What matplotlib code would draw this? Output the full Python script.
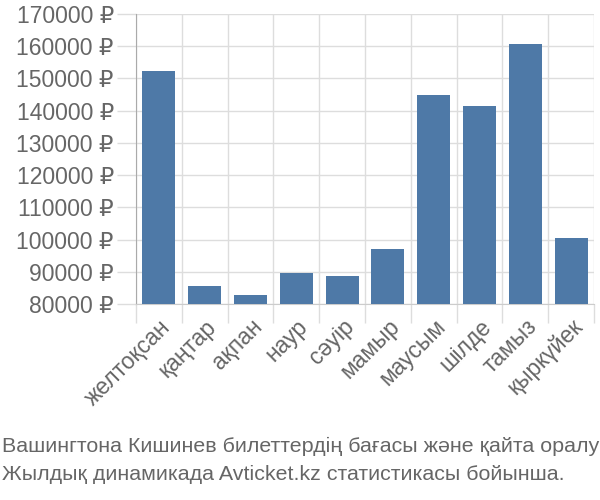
import numpy as np
import matplotlib
matplotlib.use("Agg")
import matplotlib.pyplot as plt

months = ["желтоқсан", "қаңтар", "ақпан", "наур", "сәуір",
          "мамыр", "маусым", "шілде", "тамыз", "қыркүйек"]
prices = [152200, 85700, 82700, 89600, 88600,
          97000, 145000, 141500, 160700, 100400]
y_ticks = list(range(80000, 170001, 10000))
caption = ["Вашингтона Кишинев билеттердің бағасы және қайта оралу",
           "Жылдық динамикада Avticket.kz статистикасы бойынша."]

base = ["Liberation Sans", "DejaVu Sans"]
txt = "#666666"
grid = "#dddddd"

fig = plt.figure(figsize=(6, 5), dpi=100)
ax = fig.add_axes([0.2267, 0.392, 0.7633, 0.58])

x = np.arange(len(months))
ax.bar(x, prices, width=0.72, color="#4e79a7", zorder=3)

ax.set_xlim(-0.5, len(months) - 0.5)
ax.set_ylim(80000, 170000)
ax.set_yticks(y_ticks)
ax.set_yticklabels([f"{v} ₽" for v in y_ticks], family=base,
                   fontsize=16.5, color=txt)
ax.set_xticks(x)
ax.set_xticklabels(months, rotation=45, ha="right", rotation_mode="anchor",
                   family=base, fontsize=16.5, color=txt)
ax.set_xticks(np.arange(len(months) + 1) - 0.5, minor=True)

ax.tick_params(axis="x", which="major", length=0, pad=8)
ax.tick_params(axis="x", which="minor", length=14, color=grid, width=1)
ax.tick_params(axis="y", length=14, color=grid, width=1, pad=2)
ax.grid(True, which="minor", axis="x", color=grid, lw=1, zorder=0)
ax.grid(True, which="major", axis="y", color=grid, lw=1, zorder=0)

for s in ["top", "right"]:
    ax.spines[s].set_visible(False)
ax.spines["left"].set_color("#aaaaaa")
ax.spines["bottom"].set_color("#cccccc")

# no condensed face installed, so the caption is set a bit smaller to fit
fig.text(0.003, 0.108, caption[0], family=base, fontsize=15.4,
         color=txt, va="center")
fig.text(0.003, 0.05, caption[1], family=base, fontsize=15.4,
         color=txt, va="center")

fig.savefig("out.png", dpi=100)
